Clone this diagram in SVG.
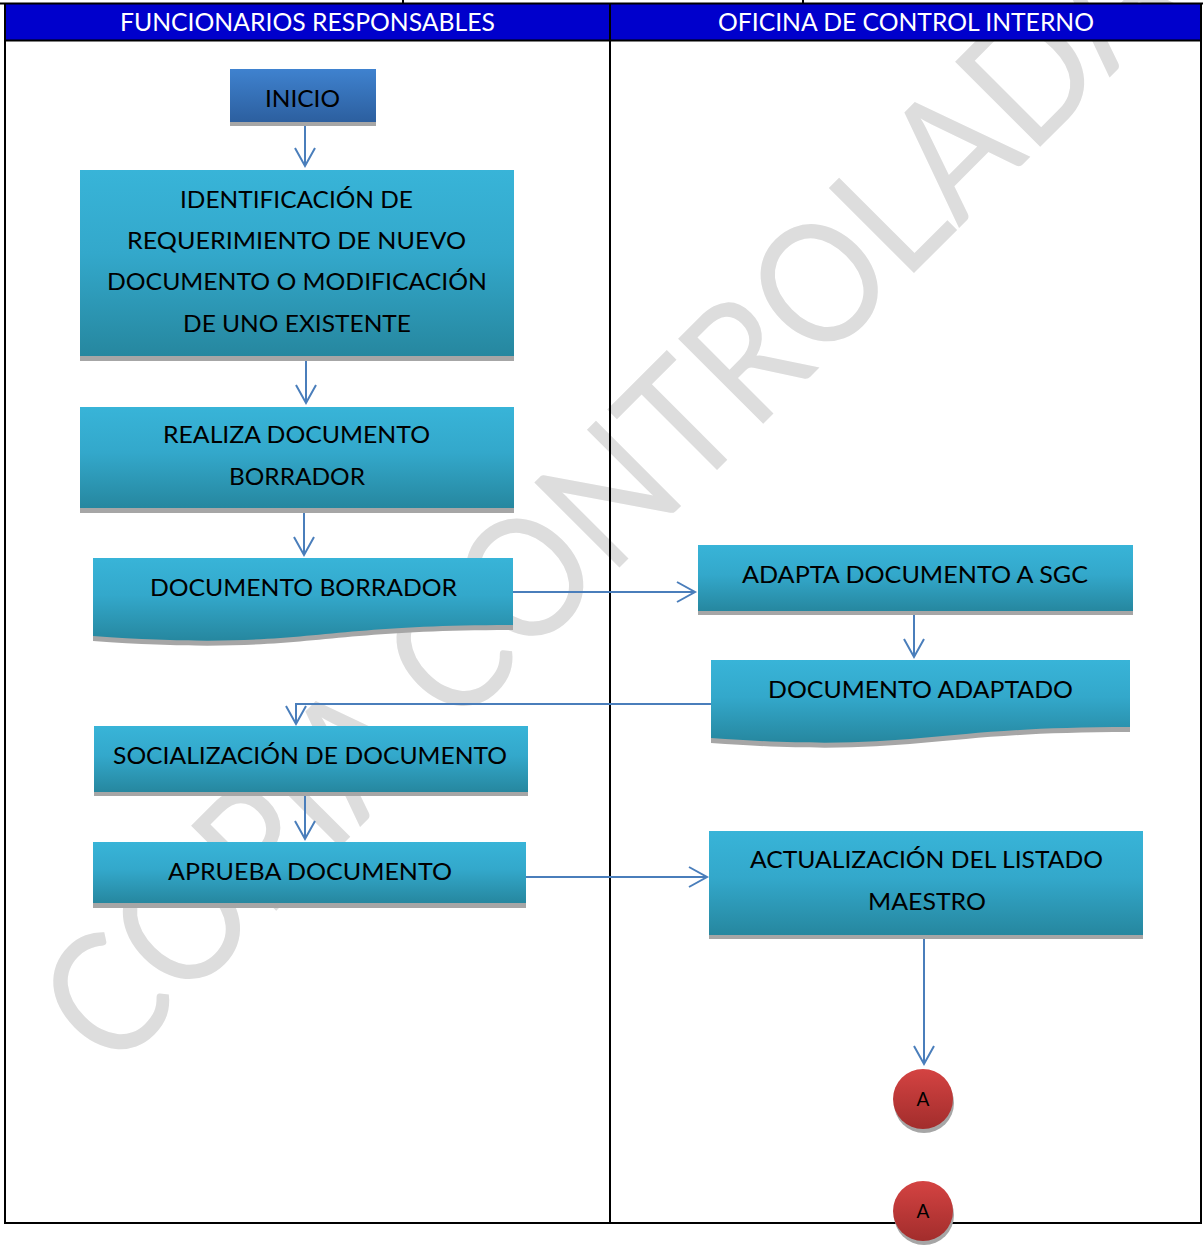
<svg xmlns="http://www.w3.org/2000/svg" width="1203" height="1247" viewBox="0 0 1203 1247">
  <style>
    .grid { stroke: #000; stroke-width: 2; fill: none; }
    .hdr { font-family: Lato, "Liberation Sans", sans-serif; font-size: 25px; fill: #fff; text-anchor: middle; }
    .lbl { font-family: Lato, "Liberation Sans", sans-serif; font-size: 24px; fill: #000; text-anchor: middle; }
    .circ { font-family: Lato, "Liberation Sans", sans-serif; font-size: 19px; fill: #000; text-anchor: middle; }
    .shadow { fill: #a6a6a6; }
    .proc { fill: url(#gProc); }
    .start { fill: url(#gStart); }
    .conn { fill: url(#gConn); }
    .edge { stroke: #4a7ebb; stroke-width: 2; fill: none; marker-end: url(#arrow); }
    .wm { font-family: Lato, "Liberation Sans", sans-serif; font-size: 168px; fill: #dddddd; }
  </style>
  <defs>
    <linearGradient id="gProc" x1="0" y1="0" x2="0" y2="1">
      <stop offset="0" stop-color="#38b4d8"/>
      <stop offset="0.45" stop-color="#33a8cb"/>
      <stop offset="1" stop-color="#26879f"/>
    </linearGradient>
    <linearGradient id="gStart" x1="0" y1="0" x2="0" y2="1">
      <stop offset="0" stop-color="#3f82cf"/>
      <stop offset="1" stop-color="#2c5f9f"/>
    </linearGradient>
    <linearGradient id="gConn" x1="0" y1="0" x2="0" y2="1">
      <stop offset="0" stop-color="#d44342"/>
      <stop offset="1" stop-color="#a22d2c"/>
    </linearGradient>
    <marker id="arrow" markerUnits="userSpaceOnUse" markerWidth="26" markerHeight="26" viewBox="-22 -13 26 26" refX="0" refY="0" orient="auto">
      <path d="M-18,-10 L0,0 L-18,10" fill="none" stroke="#4a7ebb" stroke-width="2"/>
    </marker>
  </defs>

  <rect width="1203" height="1247" fill="#fff"/>

  <!-- watermark, drawn first so everything else sits over it -->
  <text class="wm" transform="translate(112,1075) rotate(-45)" x="0" y="0" textLength="1512" lengthAdjust="spacingAndGlyphs">COPIA CONTROLADA</text>

  <!-- table grid -->
  <g id="table">
    <rect x="5" y="4" width="1196" height="36" fill="#0000cc"/>
    <line class="grid" x1="0" y1="3.5" x2="1203" y2="3.5"/>
    <line class="grid" x1="403" y1="0" x2="403" y2="4"/>
    <line class="grid" x1="803" y1="0" x2="803" y2="4"/>
    <line class="grid" x1="5" y1="40.5" x2="1201" y2="40.5"/>
    <line class="grid" x1="5" y1="3" x2="5" y2="1224"/>
    <line class="grid" x1="1201" y1="3" x2="1201" y2="1224"/>
    <line class="grid" x1="610" y1="3" x2="610" y2="1224"/>
    <line class="grid" x1="4" y1="1223" x2="1202" y2="1223"/>
    <text class="hdr" x="307.5" y="31" textLength="375" lengthAdjust="spacingAndGlyphs">FUNCIONARIOS RESPONSABLES</text>
    <text class="hdr" x="906" y="31" textLength="376" lengthAdjust="spacingAndGlyphs">OFICINA DE CONTROL INTERNO</text>
  </g>

  <!-- connectors -->
  <g id="connectors">
    <path class="edge" d="M305,122 V166"/>
    <path class="edge" d="M306,356 V403"/>
    <path class="edge" d="M304,508 V555"/>
    <path class="edge" d="M513,592 H695"/>
    <path class="edge" d="M914,611 V657"/>
    <path class="edge" d="M711,704 H296 V724"/>
    <path class="edge" d="M305,792 V839"/>
    <path class="edge" d="M526,877 H707"/>
    <path class="edge" d="M924,935 V1064"/>
  </g>

  <!-- nodes -->
  <g id="inicio">
    <rect class="shadow" x="230" y="73" width="146" height="53"/>
    <rect class="start" x="230" y="69" width="146" height="53"/>
    <text class="lbl" x="302.5" y="107" textLength="75" lengthAdjust="spacingAndGlyphs">INICIO</text>
  </g>

  <g id="identificacion">
    <rect class="shadow" x="80" y="175" width="434" height="186"/>
    <rect class="proc" x="80" y="170" width="434" height="186"/>
    <text class="lbl" x="296.5" y="208" textLength="233" lengthAdjust="spacingAndGlyphs">IDENTIFICACIÓN DE</text>
    <text class="lbl" x="296.5" y="249" textLength="339" lengthAdjust="spacingAndGlyphs">REQUERIMIENTO DE NUEVO</text>
    <text class="lbl" x="297" y="290" textLength="380" lengthAdjust="spacingAndGlyphs">DOCUMENTO O MODIFICACIÓN</text>
    <text class="lbl" x="297" y="332" textLength="228" lengthAdjust="spacingAndGlyphs">DE UNO EXISTENTE</text>
  </g>

  <g id="realiza">
    <rect class="shadow" x="80" y="412" width="434" height="101"/>
    <rect class="proc" x="80" y="407" width="434" height="101"/>
    <text class="lbl" x="296.5" y="443" textLength="267" lengthAdjust="spacingAndGlyphs">REALIZA DOCUMENTO</text>
    <text class="lbl" x="297" y="485" textLength="136" lengthAdjust="spacingAndGlyphs">BORRADOR</text>
  </g>

  <g id="doc-borrador">
    <path class="shadow" d="M93,563 H513 V630 C303,630 303,656 93,641 Z"/>
    <path class="proc" d="M93,558 H513 V625 C303,625 303,651 93,636 Z"/>
    <text class="lbl" x="303.5" y="596" textLength="307" lengthAdjust="spacingAndGlyphs">DOCUMENTO BORRADOR</text>
  </g>

  <g id="adapta">
    <rect class="shadow" x="698" y="549" width="435" height="66"/>
    <rect class="proc" x="698" y="545" width="435" height="66"/>
    <text class="lbl" x="915" y="583" textLength="346" lengthAdjust="spacingAndGlyphs">ADAPTA DOCUMENTO A SGC</text>
  </g>

  <g id="doc-adaptado">
    <path class="shadow" d="M711,665 H1130 V732 C920,732 920,758 711,743 Z"/>
    <path class="proc" d="M711,660 H1130 V727 C920,727 920,753 711,738 Z"/>
    <text class="lbl" x="920.5" y="698" textLength="305" lengthAdjust="spacingAndGlyphs">DOCUMENTO ADAPTADO</text>
  </g>

  <g id="socializacion">
    <rect class="shadow" x="94" y="730" width="434" height="66"/>
    <rect class="proc" x="94" y="726" width="434" height="66"/>
    <text class="lbl" x="310" y="764" textLength="394" lengthAdjust="spacingAndGlyphs">SOCIALIZACIÓN DE DOCUMENTO</text>
  </g>

  <g id="aprueba">
    <rect class="shadow" x="93" y="847" width="433" height="61"/>
    <rect class="proc" x="93" y="842" width="433" height="61"/>
    <text class="lbl" x="310" y="880" textLength="284" lengthAdjust="spacingAndGlyphs">APRUEBA DOCUMENTO</text>
  </g>

  <g id="actualizacion">
    <rect class="shadow" x="709" y="835" width="434" height="104"/>
    <rect class="proc" x="709" y="831" width="434" height="104"/>
    <text class="lbl" x="926.5" y="868" textLength="353" lengthAdjust="spacingAndGlyphs">ACTUALIZACIÓN DEL LISTADO</text>
    <text class="lbl" x="927" y="910" textLength="118" lengthAdjust="spacingAndGlyphs">MAESTRO</text>
  </g>

  <g id="conector-a1">
    <circle class="shadow" cx="924" cy="1103" r="30"/>
    <circle class="conn" cx="923" cy="1099" r="30"/>
    <text class="circ" x="923" y="1106">A</text>
  </g>

  <g id="conector-a2">
    <circle class="shadow" cx="924" cy="1215" r="30"/>
    <circle class="conn" cx="923" cy="1211" r="30"/>
    <text class="circ" x="923" y="1218">A</text>
  </g>
</svg>
